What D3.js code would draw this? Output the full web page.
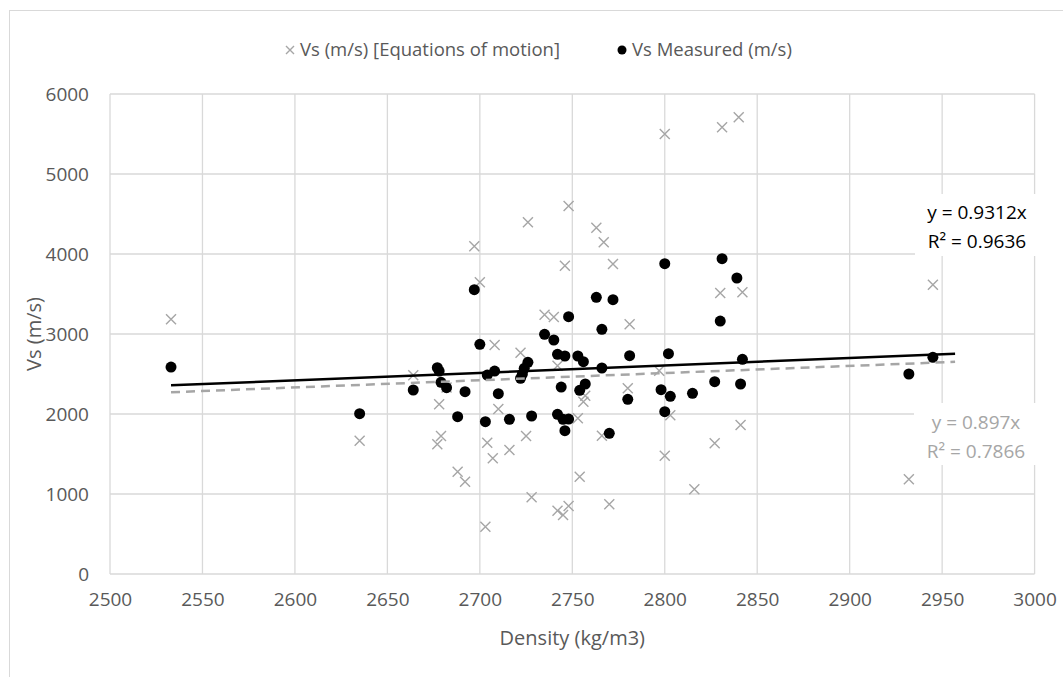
<!DOCTYPE html>
<html>
<head>
<meta charset="utf-8">
<script src="https://cdn.jsdelivr.net/npm/d3@7"></script>
<style>
  body { margin: 0; background: #fff; }
  svg text { font-family: "Open Sans", "Lato", sans-serif; }
</style>
</head>
<body>
<svg id="chart" width="1063" height="677"></svg>
<script>
// Vs from equations of motion (grey crosses)
var densityCalc = [2533, 2635, 2664, 2677, 2678, 2679, 2682, 2688, 2692, 2697, 2700, 2703, 2704, 2707, 2708, 2710, 2716, 2722, 2725, 2726, 2728, 2735, 2740, 2742, 2742, 2745, 2746, 2748, 2748, 2753, 2754, 2756, 2757, 2763, 2766, 2767, 2770, 2772, 2780, 2781, 2797, 2800, 2800, 2803, 2816, 2827, 2830, 2831, 2840, 2841, 2842, 2932, 2945];
var vsCalc = [3183, 1666, 2483, 1621, 2121, 1725, 2330, 1279, 1154, 4096, 3646, 592, 1642, 1446, 2862, 2062, 1550, 2766, 1725, 4396, 958, 3242, 3212, 2604, 792, 737, 3854, 850, 4600, 1946, 1217, 2154, 2229, 4329, 1729, 4146, 871, 3875, 2321, 3121, 2541, 5500, 1479, 1983, 1058, 1633, 3512, 5583, 5708, 1862, 3521, 1183, 3617];

// Vs measured (black dots)
var densityMeas = [2533, 2635, 2664, 2677, 2678, 2679, 2682, 2688, 2692, 2697, 2700, 2703, 2704, 2708, 2710, 2716, 2722, 2723, 2724, 2726, 2728, 2735, 2740, 2742, 2742, 2744, 2745, 2746, 2746, 2748, 2748, 2753, 2754, 2756, 2757, 2763, 2766, 2766, 2770, 2772, 2780, 2781, 2798, 2800, 2800, 2802, 2803, 2815, 2827, 2830, 2831, 2839, 2841, 2842, 2932, 2945];
var vsMeas = [2587, 2004, 2300, 2579, 2537, 2396, 2329, 1967, 2279, 3554, 2871, 1904, 2487, 2537, 2254, 1933, 2446, 2500, 2571, 2646, 1975, 2996, 2925, 2746, 1996, 2337, 1933, 1792, 2725, 3216, 1937, 2725, 2296, 2654, 2375, 3458, 2575, 3058, 1758, 3429, 2183, 2729, 2304, 2029, 3879, 2754, 2221, 2258, 2404, 3162, 3942, 3700, 2375, 2683, 2500, 2708];

var xTicks = [2500, 2550, 2600, 2650, 2700, 2750, 2800, 2850, 2900, 2950, 3000];
var yTicks = [0, 1000, 2000, 3000, 4000, 5000, 6000];

// linear trendlines through the origin, as printed on the chart
var seriesNames = ["Vs (m/s) [Equations of motion]", "Vs Measured (m/s)"];
var trendSlopes = [0.897, 0.9312];
var trendR2 = [0.7866, 0.9636];
var trendForward = 12;

var svg = d3.select("#chart");
var grey = "#a6a6a6", gridColor = "#d9d9d9", textColor = "#595959";

// outer chart border
svg.append("rect")
  .attr("x", 9.5).attr("y", 10.5)
  .attr("width", 1060).attr("height", 680)
  .attr("fill", "none").attr("stroke", gridColor);

var x = d3.scaleLinear().domain([2500, 3000]).range([110, 1034.6]);
var y = d3.scaleLinear().domain([0, 6000]).range([574, 94]);

// gridlines
svg.append("g").selectAll("line").data(xTicks).enter().append("line")
  .attr("x1", function (d) { return x(d); }).attr("x2", function (d) { return x(d); })
  .attr("y1", y(0)).attr("y2", y(6000))
  .attr("stroke", gridColor).attr("stroke-width", 1.3);

svg.append("g").selectAll("line").data(yTicks).enter().append("line")
  .attr("x1", x(2500)).attr("x2", x(3000))
  .attr("y1", function (d) { return y(d); }).attr("y2", function (d) { return y(d); })
  .attr("stroke", gridColor).attr("stroke-width", 1.3);

// axes (labels only, Excel style)
var xAxis = svg.append("g")
  .attr("transform", "translate(0," + y(0) + ")")
  .call(d3.axisBottom(x).tickValues(xTicks).tickSize(0).tickPadding(19).tickFormat(d3.format("d")));
var yAxis = svg.append("g")
  .attr("transform", "translate(" + x(2500) + ",0)")
  .call(d3.axisLeft(y).tickValues(yTicks).tickSize(0).tickPadding(21).tickFormat(d3.format("d")));

[xAxis, yAxis].forEach(function (a) {
  a.select(".domain").remove();
  a.selectAll("text").attr("fill", textColor).style("font-size", "19px");
});
yAxis.selectAll("text").attr("dy", "0.36em");

svg.append("text")
  .attr("x", (x(2500) + x(3000)) / 2).attr("y", 645)
  .attr("text-anchor", "middle").attr("fill", textColor)
  .style("font-size", "20px").text("Density (kg/m3)");

svg.append("text")
  .attr("transform", "translate(41," + (y(0) + y(6000)) / 2 + ") rotate(-90)")
  .attr("text-anchor", "middle").attr("fill", textColor)
  .style("font-size", "20px").text("Vs (m/s)");

// crosses
var calcData = densityCalc.map(function (d, i) { return [d, vsCalc[i]]; });
var measData = densityMeas.map(function (d, i) { return [d, vsMeas[i]]; });

function cross(sel, s) {
  sel.append("path")
    .attr("d", "M" + (-s) + "," + (-s) + "L" + s + "," + s + "M" + (-s) + "," + s + "L" + s + "," + (-s))
    .attr("stroke", grey).attr("stroke-width", 1.4).attr("fill", "none");
}

svg.append("g").selectAll("g").data(calcData).enter().append("g")
  .attr("transform", function (d) { return "translate(" + x(d[0]) + "," + y(d[1]) + ")"; })
  .call(cross, 5);

svg.append("g").selectAll("circle").data(measData).enter().append("circle")
  .attr("cx", function (d) { return x(d[0]); })
  .attr("cy", function (d) { return y(d[1]); })
  .attr("r", 5.5).attr("fill", "#000");

// trendlines
var line = d3.line().x(function (d) { return x(d[0]); }).y(function (d) { return y(d[1]); });
var trendStyles = [
  { color: grey, dash: "9,6", data: densityCalc },
  { color: "#000", dash: null, data: densityMeas }
];
trendStyles.forEach(function (t, i) {
  var ext = d3.extent(t.data);
  var pts = [ext[0], ext[1] + trendForward].map(function (d) { return [d, trendSlopes[i] * d]; });
  svg.append("path")
    .attr("d", line(pts))
    .attr("fill", "none")
    .attr("stroke", t.color)
    .attr("stroke-width", 2.5)
    .attr("stroke-dasharray", t.dash);
});

// trendline labels
var labelPos = [{ cx: 976, top: 403, b1: 429, b2: 458 }, { cx: 977, top: 194, b1: 219, b2: 248 }];
labelPos.forEach(function (p, i) {
  svg.append("rect")
    .attr("x", p.cx - 62).attr("y", p.top)
    .attr("width", 124).attr("height", 62)
    .attr("fill", "#fff");
  var col = i === 0 ? grey : "#000";
  svg.append("text").attr("x", p.cx).attr("y", p.b1)
    .attr("text-anchor", "middle").attr("fill", col).style("font-size", "19px")
    .text("y = " + trendSlopes[i] + "x");
  svg.append("text").attr("x", p.cx).attr("y", p.b2)
    .attr("text-anchor", "middle").attr("fill", col).style("font-size", "19px")
    .text("R\u00b2 = " + trendR2[i]);
});

// legend
var legend = svg.append("g").attr("transform", "translate(0,50)");
var l1 = legend.append("g").attr("transform", "translate(290,0)");
l1.call(cross, 4);
l1.append("text").attr("x", 10).attr("dy", "0.35em")
  .attr("fill", textColor).style("font-size", "18.5px").text(seriesNames[0]);
var l2 = legend.append("g").attr("transform", "translate(622,0)");
l2.append("circle").attr("r", 4.5).attr("fill", "#000");
l2.append("text").attr("x", 10).attr("dy", "0.35em")
  .attr("fill", textColor).style("font-size", "18.5px").text(seriesNames[1]);
</script>
</body>
</html>
